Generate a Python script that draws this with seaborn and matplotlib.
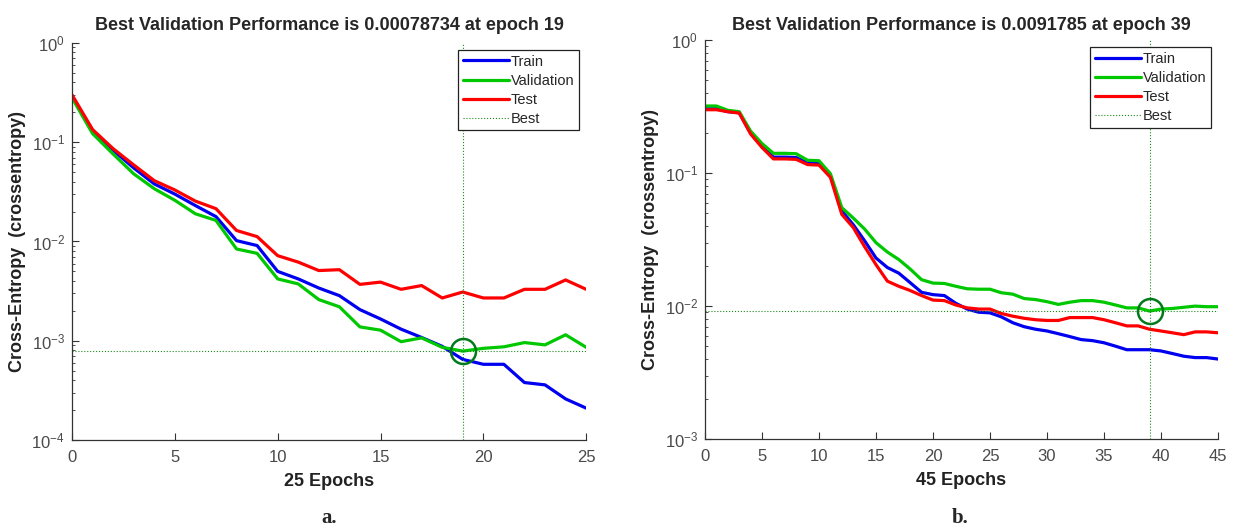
import numpy as np
import pandas as pd
import matplotlib
matplotlib.use('Agg')
import matplotlib.pyplot as plt
import seaborn as sns
from matplotlib.lines import Line2D
from matplotlib.ticker import LogLocator, NullFormatter

# 数据 a：25 个 epoch
epochs_a = list(range(26))
train_a = [0.29, 0.13, 0.083, 0.055, 0.038, 0.030, 0.023, 0.0178, 0.0102, 0.0091,
           0.0050, 0.0042, 0.0034, 0.00285, 0.00206, 0.00166, 0.00131, 0.00108, 0.00088, 0.00065,
           0.00058, 0.00058, 0.00038, 0.00036, 0.00026, 0.00021]
val_a = [0.28, 0.122, 0.076, 0.048, 0.034, 0.026, 0.019, 0.0163, 0.0084, 0.0076,
         0.0042, 0.00374, 0.0026, 0.0022, 0.00138, 0.00128, 0.00098, 0.00107, 0.00086, 0.00078734,
         0.00084, 0.00087, 0.00096, 0.00091, 0.00115, 0.00086]
test_a = [0.30, 0.134, 0.086, 0.059, 0.041, 0.033, 0.0255, 0.0214, 0.0129, 0.0112,
          0.0072, 0.0062, 0.0051, 0.0052, 0.0037, 0.0039, 0.0033, 0.0036, 0.0027, 0.0031,
          0.0027, 0.0027, 0.0033, 0.0033, 0.0041, 0.0033]
best_a = (19, 0.00078734)

# 数据 b：45 个 epoch
epochs_b = list(range(46))
train_b = [0.305, 0.305, 0.29, 0.285, 0.20, 0.16, 0.132, 0.132, 0.131, 0.119,
           0.118, 0.096, 0.052, 0.041, 0.031, 0.023, 0.0195, 0.0177, 0.015, 0.0127,
           0.0122, 0.012, 0.0105, 0.0095, 0.009, 0.0089, 0.0083, 0.0075, 0.007, 0.0067,
           0.0065, 0.0062, 0.0059, 0.0056, 0.0055, 0.0053, 0.0050, 0.0047, 0.0047, 0.0047,
           0.0046, 0.0044, 0.0042, 0.0041, 0.0041, 0.0040]
val_b = [0.32, 0.32, 0.297, 0.29, 0.207, 0.167, 0.141, 0.141, 0.14, 0.125,
         0.124, 0.099, 0.055, 0.046, 0.038, 0.030, 0.0255, 0.0224, 0.019, 0.0158,
         0.0149, 0.0148, 0.0141, 0.0135, 0.0134, 0.0134, 0.0126, 0.0123, 0.0114, 0.0112,
         0.0108, 0.0103, 0.0107, 0.011, 0.011, 0.0107, 0.0102, 0.0097, 0.0097, 0.0091785,
         0.0095, 0.0096, 0.0098, 0.0100, 0.0099, 0.0099]
test_b = [0.30, 0.30, 0.29, 0.283, 0.197, 0.156, 0.128, 0.128, 0.127, 0.116,
          0.115, 0.093, 0.049, 0.039, 0.028, 0.0205, 0.0154, 0.0141, 0.0131, 0.012,
          0.0111, 0.011, 0.0102, 0.0097, 0.0095, 0.0095, 0.0088, 0.0084, 0.0081, 0.0079,
          0.0078, 0.0078, 0.0082, 0.0082, 0.0082, 0.0079, 0.0075, 0.0071, 0.0071, 0.0067,
          0.0065, 0.0063, 0.0061, 0.0064, 0.0064, 0.0063]
best_b = (39, 0.0091785)

sns.set_style('ticks')
plt.rcParams['font.family'] = ['Liberation Sans', 'DejaVu Sans']

colors = {'Train': '#0000f0', 'Validation': '#00c800', 'Test': '#ff0000'}
best_color = '#1e8a1e'


def draw_panel(ax, epochs, train, val, test, best, ylim, title, xlabel, title_pad):
    df = pd.DataFrame({'epoch': epochs, 'Train': train, 'Validation': val, 'Test': test})
    df = df.melt(id_vars='epoch', var_name='set', value_name='loss')
    sns.lineplot(data=df, x='epoch', y='loss', hue='set', palette=colors,
                 linewidth=2.3, legend=False, ax=ax)
    ax.set_yscale('log')
    ax.set_xlim(epochs[0], epochs[-1])
    ax.set_ylim(*ylim)
    # best 点
    ax.axvline(best[0], color=best_color, ls=':', lw=0.8)
    ax.axhline(best[1], color=best_color, ls=':', lw=0.8)
    ax.plot([best[0]], [best[1]], 'o', ms=18, mfc='none', mec='#007a1a', mew=1.8)

    ax.set_xticks(range(0, epochs[-1] + 1, 5))
    ax.yaxis.set_major_locator(LogLocator(base=10, numticks=10))
    ax.yaxis.set_minor_locator(LogLocator(base=10, subs=np.arange(2, 10), numticks=10))
    ax.yaxis.set_minor_formatter(NullFormatter())
    ax.tick_params(direction='in', which='major', length=5, width=0.8,
                   colors='#333333', labelsize=12, labelcolor='#4a4a4a')
    ax.tick_params(axis='x', pad=7)
    ax.tick_params(axis='y', pad=5)
    ax.tick_params(direction='in', which='minor', length=2.5, width=0.6, colors='#333333')
    sns.despine(ax=ax)
    for s in ['left', 'bottom']:
        ax.spines[s].set_color('#333333')
        ax.spines[s].set_linewidth(0.9)

    ax.set_title(title, fontsize=13, fontweight='bold', pad=title_pad)
    ax.set_xlabel(xlabel, fontsize=13, fontweight='bold', color='#222222', labelpad=6)
    ax.set_ylabel('Cross-Entropy  (crossentropy)', fontsize=13, fontweight='bold',
                  color='#222222', labelpad=4)

    handles = [Line2D([], [], color=colors['Train'], lw=2.3),
               Line2D([], [], color=colors['Validation'], lw=2.3),
               Line2D([], [], color=colors['Test'], lw=2.3),
               Line2D([], [], color=best_color, lw=0.8, ls=':')]
    leg = ax.legend(handles, ['Train', 'Validation', 'Test', 'Best'], loc='upper right',
                    fontsize=10.5, handlelength=3.2, handletextpad=0.1, labelspacing=0.35,
                    borderpad=0.3, borderaxespad=0.5, fancybox=False, framealpha=1)
    leg.get_frame().set_edgecolor('#222222')
    leg.get_frame().set_linewidth(0.9)


fig = plt.figure(figsize=(12.33, 5.29), dpi=100)
ax1 = fig.add_axes([0.0584, 0.168, 0.417, 0.751])
ax2 = fig.add_axes([0.5718, 0.170, 0.416, 0.754])

draw_panel(ax1, epochs_a, train_a, val_a, test_a, best_a, (1e-4, 1),
           'Best Validation Performance is 0.00078734 at epoch 19', '25 Epochs', 9)
draw_panel(ax2, epochs_b, train_b, val_b, test_b, best_b, (1e-3, 1),
           'Best Validation Performance is 0.0091785 at epoch 39', '45 Epochs', 7)

fig.text(0.267, 0.02, 'a.', family=['Liberation Serif'], fontweight='bold', fontsize=15,
         ha='center', va='center')
fig.text(0.779, 0.02, 'b.', family=['Liberation Serif'], fontweight='bold', fontsize=15,
         ha='center', va='center')

fig.savefig('out.png', dpi=100)
